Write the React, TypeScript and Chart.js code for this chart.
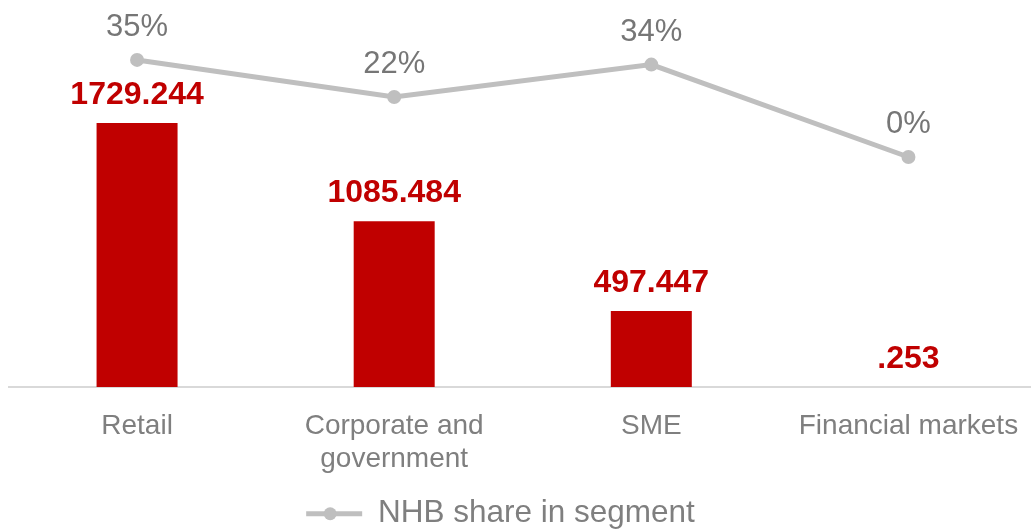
import React, { useEffect, useRef } from 'react';
import { Chart, registerables } from 'chart.js';

Chart.register(...registerables);

const categories: string[][] = [['Retail'], ['Corporate and', 'government'], ['SME'], ['Financial markets']];
const volumes: number[] = [1729.244, 1085.484, 497.447, 0.253];
const shares: number[] = [0.353, 0.218, 0.336, 0.0];
const volumeLabel = 'Volume';
const shareLabel = 'NHB share in segment';

const FONT = '"Liberation Sans", Arial, Helvetica, sans-serif';
const RED = '#C00000';
const LINE_GRAY = '#BFBFBF';
const TEXT_GRAY = '#7F7F7F';
const PCT_GRAY = '#767676';

const fmtVol = (v: number) => v.toFixed(3).replace(/^0\./, '.');
const fmtPct = (v: number) => `${Math.round(v * 100)}%`;

const labelPlugin = {
  id: 'valueLabels',
  afterDatasetsDraw(chart: any) {
    const ctx = chart.ctx;
    ctx.save();
    ctx.textAlign = 'center';
    ctx.textBaseline = 'alphabetic';
    const barMeta = chart.getDatasetMeta(0);
    ctx.font = `bold 32px ${FONT}`;
    ctx.fillStyle = RED;
    barMeta.data.forEach((el: any, i: number) => {
      ctx.fillText(fmtVol(volumes[i]), el.x, el.y - 19);
    });
    const lineMeta = chart.getDatasetMeta(1);
    ctx.font = `31px ${FONT}`;
    ctx.fillStyle = PCT_GRAY;
    lineMeta.data.forEach((el: any, i: number) => {
      ctx.fillText(fmtPct(shares[i]), el.x, el.y - 24);
    });
    ctx.restore();
  },
  afterDraw(chart: any) {
    const lg = chart.legend;
    if (lg && lg.legendHitBoxes && lg.legendHitBoxes.length) {
      const hb = lg.legendHitBoxes[0];
      const ctx = chart.ctx;
      ctx.save();
      ctx.beginPath();
      ctx.arc(hb.left + 24, hb.top + hb.height / 2, 6.5, 0, Math.PI * 2);
      ctx.fillStyle = LINE_GRAY;
      ctx.fill();
      ctx.restore();
    }
  },
};

export default function App() {
  const ref = useRef<HTMLCanvasElement | null>(null);

  useEffect(() => {
    if (!ref.current) return;
    const chart = new Chart(ref.current, {
      type: 'bar',
      data: {
        labels: categories as any,
        datasets: [
          {
            type: 'bar',
            label: volumeLabel,
            data: volumes,
            backgroundColor: RED,
            yAxisID: 'y',
            order: 2,
            categoryPercentage: 1,
            barPercentage: 0.315,
          } as any,
          {
            type: 'line',
            label: shareLabel,
            data: shares,
            borderColor: LINE_GRAY,
            backgroundColor: LINE_GRAY,
            borderWidth: 5,
            pointRadius: 7,
            pointBackgroundColor: LINE_GRAY,
            pointBorderWidth: 0,
            yAxisID: 'y2',
            order: 1,
            tension: 0,
          } as any,
        ],
      },
      options: {
        animation: false,
        responsive: false,
        layout: { padding: { left: 8.5, right: 0.5, top: 10, bottom: 0.5 } },
        plugins: {
          legend: {
            position: 'bottom',
            labels: {
              color: TEXT_GRAY,
              font: { size: 31.5, family: FONT },
              boxWidth: 56,
              boxHeight: 5,
              padding: 10,
              generateLabels: (c: any) =>
                Chart.defaults.plugins.legend.labels
                  .generateLabels(c)
                  .filter((it: any) => it.datasetIndex === 1)
                  .map((it: any) => ({ ...it, lineWidth: 0, fillStyle: LINE_GRAY, strokeStyle: LINE_GRAY })),
            },
          },
          tooltip: { enabled: false },
        },
        scales: {
          x: {
            grid: { display: false, drawTicks: false },
            border: { display: true, color: '#D9D9D9', width: 2 },
            ticks: {
              color: TEXT_GRAY,
              font: { size: 28, family: FONT, lineHeight: 1.2 },
              padding: 22,
              maxRotation: 0,
              autoSkip: false,
            },
            afterFit: (s: any) => {
              s.height = 101;
            },
          },
          y: {
            display: true,
            position: 'left',
            min: 0,
            max: 2469,
            grid: { display: false },
            border: { display: false },
            ticks: { display: false },
            afterFit: (s: any) => {
              s.width = 51;
            },
          },
          y2: {
            display: false,
            min: -0.8364,
            max: 0.5345,
          },
        },
      } as any,
      plugins: [labelPlugin],
    });
    return () => chart.destroy();
  }, []);

  return (
    <div style={{ position: 'fixed', left: 0, top: 0, width: 1031, height: 529, overflow: 'hidden', background: '#fff' }}>
      <div style={{ position: 'absolute', left: -51, top: 0, width: 1095, height: 540 }}>
        <canvas ref={ref} width={1095} height={540} style={{ width: 1095, height: 540, display: 'block' }} />
      </div>
    </div>
  );
}
